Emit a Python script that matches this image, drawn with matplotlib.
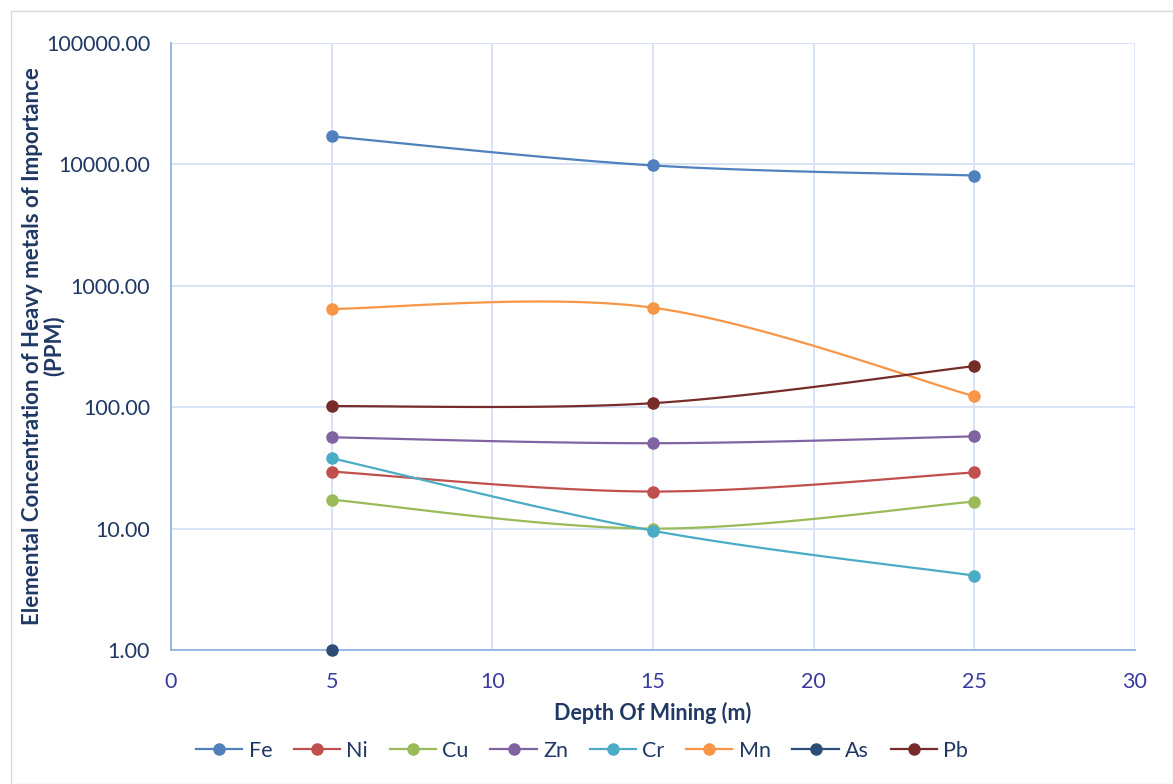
import numpy as np
import matplotlib
matplotlib.use("Agg")
import matplotlib.pyplot as plt
from matplotlib.lines import Line2D
from matplotlib.patches import Rectangle

plt.rcParams['font.family'] = ['Lato', 'DejaVu Sans']

depth = [5, 15, 25]
series_names = ["Fe", "Ni", "Cu", "Zn", "Cr", "Mn", "As", "Pb"]
fe = [17000, 9800, 8100]
ni = [29.5, 20.2, 29.0]
cu = [17.3, 10.0, 16.7]
zn = [56.5, 50.5, 57.5]
cr = [38.0, 9.6, 4.1]
mn = [645, 660, 123]
as_ = [1.0]
pb = [102, 108, 218]
as_depth = [5]

colors = ["#4F81BD", "#C0504D", "#9BBB59", "#8064A2", "#4BACC6", "#F79646", "#2C4D75", "#772C2A"]
values = [fe, ni, cu, zn, cr, mn, as_, pb]
xs_list = [depth, depth, depth, depth, depth, depth, as_depth, depth]


def smooth(x, y, n=60):
    """Excel-like smoothed line (Catmull-Rom Bezier) in log-y space."""
    x = np.asarray(x, float)
    y = np.log10(np.asarray(y, float))
    if len(x) < 2:
        return x, 10 ** y
    P = np.column_stack([x, y])
    out = []
    t = np.linspace(0, 1, n)[:, None]
    for i in range(len(P) - 1):
        p0 = P[i - 1] if i > 0 else P[i]
        p1 = P[i]
        p2 = P[i + 1]
        p3 = P[i + 2] if i + 2 < len(P) else P[i + 1]
        c1 = p1 + (p2 - p0) / 6
        c2 = p2 - (p3 - p1) / 6
        b = ((1 - t) ** 3) * p1 + 3 * ((1 - t) ** 2) * t * c1 + 3 * (1 - t) * t ** 2 * c2 + t ** 3 * p2
        out.append(b)
    B = np.vstack(out)
    return B[:, 0], 10 ** B[:, 1]


fig = plt.figure(figsize=(11.73, 7.84), dpi=100)
fig.patches.append(Rectangle((11 / 1173, 0), 1 - 11 / 1173, 1 - 11 / 784, transform=fig.transFigure,
                             fill=False, edgecolor="#D9D9D9", linewidth=1.0))
ax = fig.add_axes([171 / 1173, 1 - 650 / 784, (1135 - 171) / 1173, (650 - 43) / 784])

ax.set_yscale('log')
ax.set_xlim(0, 30)
ax.set_ylim(1, 100000)
ax.set_xticks([0, 5, 10, 15, 20, 25, 30])
ax.set_yticks([1, 10, 100, 1000, 10000, 100000])
ax.set_yticklabels([f"{v:.2f}" for v in [1, 10, 100, 1000, 10000, 100000]])
ax.yaxis.set_minor_locator(matplotlib.ticker.NullLocator())
ax.grid(True, color="#D6E1F2", linewidth=1.3)
ax.set_axisbelow(True)
for s in ["top", "right"]:
    ax.spines[s].set_visible(False)
for s in ["left", "bottom"]:
    ax.spines[s].set_color("#8EB4E3")
    ax.spines[s].set_linewidth(1.3)
ax.tick_params(axis='both', length=0)
ax.tick_params(axis='y', labelsize=15.5, labelcolor="#1F3864", pad=15)
ax.tick_params(axis='x', labelsize=15.5, labelcolor="#3A3AA0", pad=16)

handles = []
for name, xv, yv, c in zip(series_names, xs_list, values, colors):
    sx, sy = smooth(xv, yv)
    ax.plot(sx, sy, color=c, linewidth=1.6, clip_on=False, zorder=3)
    ax.plot(xv, yv, linestyle='none', marker='o', markersize=8, color=c, clip_on=False, zorder=4)
    handles.append(Line2D([0], [0], color=c, linewidth=1.6, marker='o', markersize=8, label=name))

ax.set_xlabel("Depth Of Mining (m)", fontsize=15.5, fontweight='bold', color="#1F3864", labelpad=7)
fig.text(43 / 1173, 1 - 346 / 784, "Elemental Concentration of Heavy metals of Importance\n(PPM)",
         fontsize=16, fontweight='bold', color="#1F3864", rotation=90, ha='center', va='center',
         multialignment='center', linespacing=1.0)

fig.legend(handles=handles, loc='center', bbox_to_anchor=(582 / 1173, 1 - 751 / 784), ncol=8, frameon=False,
           fontsize=15.5, handlelength=2.15, columnspacing=1.0, handletextpad=0.3, labelcolor="#1F3864")

fig.savefig("out.png", dpi=100)
